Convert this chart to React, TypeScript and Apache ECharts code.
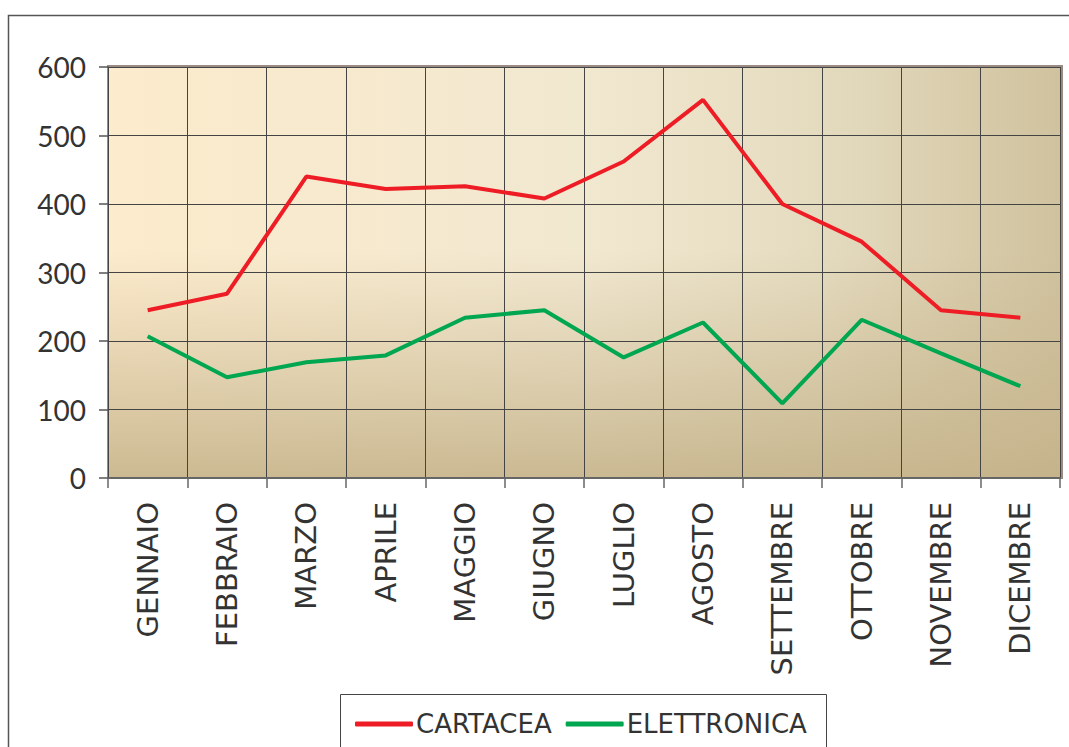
import React, { useEffect, useRef } from "react";
import * as echarts from "echarts";

const months = [
  "GENNAIO", "FEBBRAIO", "MARZO", "APRILE", "MAGGIO", "GIUGNO",
  "LUGLIO", "AGOSTO", "SETTEMBRE", "OTTOBRE", "NOVEMBRE", "DICEMBRE",
];
const cartacea = [245, 269, 440, 422, 426, 408, 462, 552, 400, 345, 245, 234];
const elettronica = [207, 147, 169, 179, 234, 245, 176, 227, 109, 231, 182, 134];
const seriesNames = ["CARTACEA", "ELETTRONICA"];

const GL = 108, GT = 67, GR = 1060, GB = 478;

export default function App() {
  const ref = useRef<HTMLDivElement>(null);
  useEffect(() => {
    const chart = echarts.init(ref.current!, null, { renderer: "svg" });
    chart.setOption({
      animation: false,
      backgroundColor: "#ffffff",
      graphic: [
        {
          type: "rect", z: -20, silent: true,
          shape: { x: 8.5, y: 15.5, width: 1100, height: 800 },
          style: { fill: "#ffffff", stroke: "#555555", lineWidth: 1.5 },
        },
        {
          type: "rect", z: -10, silent: true,
          shape: { x: GL, y: GT, width: GR - GL, height: GB - GT },
          style: {
            fill: new echarts.graphic.LinearGradient(0, 0, 1, 0, [
              { offset: 0, color: "#fcebcc" },
              { offset: 0.5, color: "#f1e8d0" },
              { offset: 0.75, color: "#e4dbbf" },
              { offset: 1, color: "#d0c29e" },
            ]),
          },
        },
        {
          type: "rect", z: -9, silent: true,
          shape: { x: GL, y: GT, width: GR - GL, height: GB - GT },
          style: {
            fill: new echarts.graphic.LinearGradient(0, 0, 0, 1, [
              { offset: 0, color: "rgba(200,180,140,0)" },
              { offset: 0.45, color: "rgba(200,180,140,0)" },
              { offset: 1, color: "rgba(195,177,135,0.85)" },
            ]),
          },
        },
        {
          type: "rect", z: -5, silent: true,
          shape: { x: GL, y: GT - 1, width: GR - GL + 2, height: GB - GT + 1 },
          style: { fill: "none", stroke: "#9a8c84", lineWidth: 2 },
        },
        {
          type: "rect", z: -5, silent: true,
          shape: { x: 340.5, y: 694.5, width: 486, height: 80 },
          style: { fill: "#ffffff", stroke: "#444444", lineWidth: 1 },
        },
      ],
      grid: { left: GL, top: GT, width: GR - GL, height: GB - GT, containLabel: false },
      legend: {
        data: seriesNames,
        left: 350,
        top: 706,
        itemWidth: 58,
        itemHeight: 5,
        itemGap: 14,
        icon: "roundRect",
        textStyle: { fontFamily: "DejaVu Sans", fontSize: 26, color: "#333333", padding: [0, 0, 0, -2] },
      },
      xAxis: {
        type: "category",
        data: months,
        boundaryGap: true,
        axisLine: { show: true, lineStyle: { color: "#666666", width: 2 } },
        axisTick: { show: true, length: 10, lineStyle: { color: "#666666", width: 1.5 } },
        splitLine: { show: true, lineStyle: { color: "#444444", width: 1 } },
        axisLabel: {
          rotate: 90,
          margin: 24,
          interval: 0,
          fontFamily: "DejaVu Sans",
          fontSize: 29,
          color: "#333333",
        },
      },
      yAxis: {
        type: "value",
        min: 0,
        max: 600,
        interval: 100,
        axisLine: { show: true, lineStyle: { color: "#444444", width: 1 } },
        axisTick: { show: true, length: 9, lineStyle: { color: "#555555", width: 1.5 } },
        splitLine: { show: true, lineStyle: { color: "#444444", width: 1 } },
        axisLabel: { margin: 22, fontFamily: "Lato", fontSize: 28, color: "#333333" },
      },
      series: [
        {
          name: seriesNames[0],
          type: "line",
          data: cartacea,
          symbol: "none",
          lineStyle: { color: "#ee1c25", width: 4 },
          itemStyle: { color: "#ee1c25" },
        },
        {
          name: seriesNames[1],
          type: "line",
          data: elettronica,
          symbol: "none",
          lineStyle: { color: "#00a650", width: 4 },
          itemStyle: { color: "#00a650" },
        },
      ],
    });
    return () => chart.dispose();
  }, []);
  return (
    <div
      ref={ref}
      style={{ position: "absolute", left: 0, top: 0, width: 1069, height: 747 }}
    />
  );
}
